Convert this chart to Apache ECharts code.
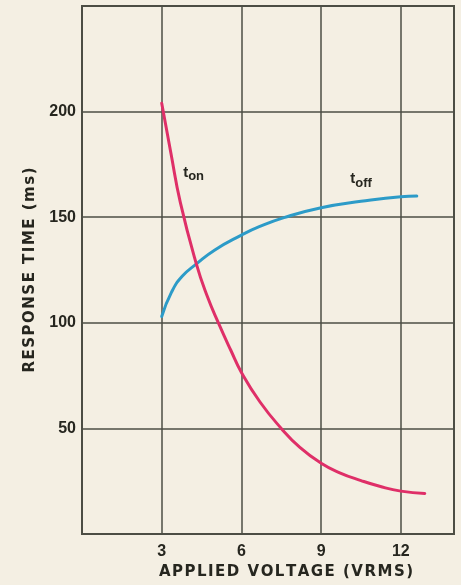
<!DOCTYPE html>
<html><head><meta charset="utf-8">
<script src="https://cdn.jsdelivr.net/npm/echarts@6/dist/echarts.min.js"></script>
<style>html,body{margin:0;padding:0;background:#f4efe3;}#c{width:461px;height:585px;}</style>
</head><body><div id="c"></div>
<script>
const xTicks = [3, 6, 9, 12];
const yTicks = [50, 100, 150, 200];
const tonX = [3, 3.35, 3.7, 4.3, 4.7, 5.15, 5.6, 6, 6.7, 7.5, 8.2, 9, 9.7, 10.5, 11.2, 12, 12.9];
const tonY = [204, 180, 157, 128, 113, 99.5, 87, 76.5, 62.5, 50, 41, 33.5, 29, 25.3, 22.6, 20.3, 19.2];
const toffX = [3, 3.37, 3.77, 4.32, 5, 6, 6.67, 7.6, 9, 10.5, 12, 12.6];
const toffY = [103, 114.5, 122, 128, 134.5, 141.5, 145.5, 149.8, 154.5, 157.5, 159.7, 160];
const labelOn = [4.2, 171];
const labelOff = [10.5, 168];
const xTitle = 'APPLIED VOLTAGE (VRMS)';
const yTitle = 'RESPONSE TIME (ms)';

const chart = echarts.init(document.getElementById('c'));
const gridColor = '#4d4e45';
const ink = '#26261f';
const font = 'Liberation Sans';
const spaced = s => s.split('').join('\u200A');
function pairs(xs, ys){ return xs.map((x,i)=>[x, ys[i]]); }
function lbl(sub){
  return {show: true, formatter: '{t|t}{s|' + sub + '}', rich: {
    t: {fontFamily: font, fontWeight: 'bold', fontSize: 15, color: ink},
    s: {fontFamily: font, fontWeight: 'bold', fontSize: 13, color: ink, padding: [8,0,0,0]}}};
}
chart.setOption({
  backgroundColor: '#f4efe3',
  animation: false,
  grid: {left: 82, top: 6, right: 7, bottom: 51, show: true, borderColor: gridColor, borderWidth: 2},
  xAxis: {
    type: 'value', min: 0, max: 14, interval: 3,
    axisLine: {show: false}, axisTick: {show: false},
    splitLine: {show: true, lineStyle: {color: gridColor, width: 1.5}},
    axisLabel: {margin: 10, color: ink, fontFamily: font, fontWeight: 'bold', fontSize: 16,
      formatter: v => xTicks.includes(v) ? String(v) : ''},
    name: spaced(xTitle), nameLocation: 'middle', nameGap: 31,
    nameTextStyle: {color: ink, fontFamily: 'DejaVu Sans', fontWeight: 'bold', fontSize: 15, padding: [0,0,0,36]}
  },
  yAxis: {
    type: 'value', min: 0, max: 250, interval: 50,
    axisLine: {show: false}, axisTick: {show: false},
    splitLine: {show: true, lineStyle: {color: gridColor, width: 1.5}},
    axisLabel: {margin: 6, color: ink, fontFamily: font, fontWeight: 'bold', fontSize: 16,
      formatter: v => yTicks.includes(v) ? String(v) : ''},
    name: spaced(yTitle), nameLocation: 'middle', nameGap: 44,
    nameTextStyle: {color: ink, fontFamily: 'DejaVu Sans', fontWeight: 'bold', fontSize: 15}
  },
  series: [
    {type: 'line', name: 'ton', data: pairs(tonX, tonY), smooth: 0.5, showSymbol: false,
     lineStyle: {color: '#df2f68', width: 3, cap: 'round'}, z: 3,
     markPoint: {symbol: 'circle', symbolSize: 0, data: [{coord: labelOn}], label: lbl('on')}},
    {type: 'line', name: 'toff', data: pairs(toffX, toffY), smooth: 0.5, showSymbol: false,
     lineStyle: {color: '#2c9bc8', width: 3, cap: 'round'}, z: 2,
     markPoint: {symbol: 'circle', symbolSize: 0, data: [{coord: labelOff}], label: lbl('off')}}
  ]
});
</script></body></html>
